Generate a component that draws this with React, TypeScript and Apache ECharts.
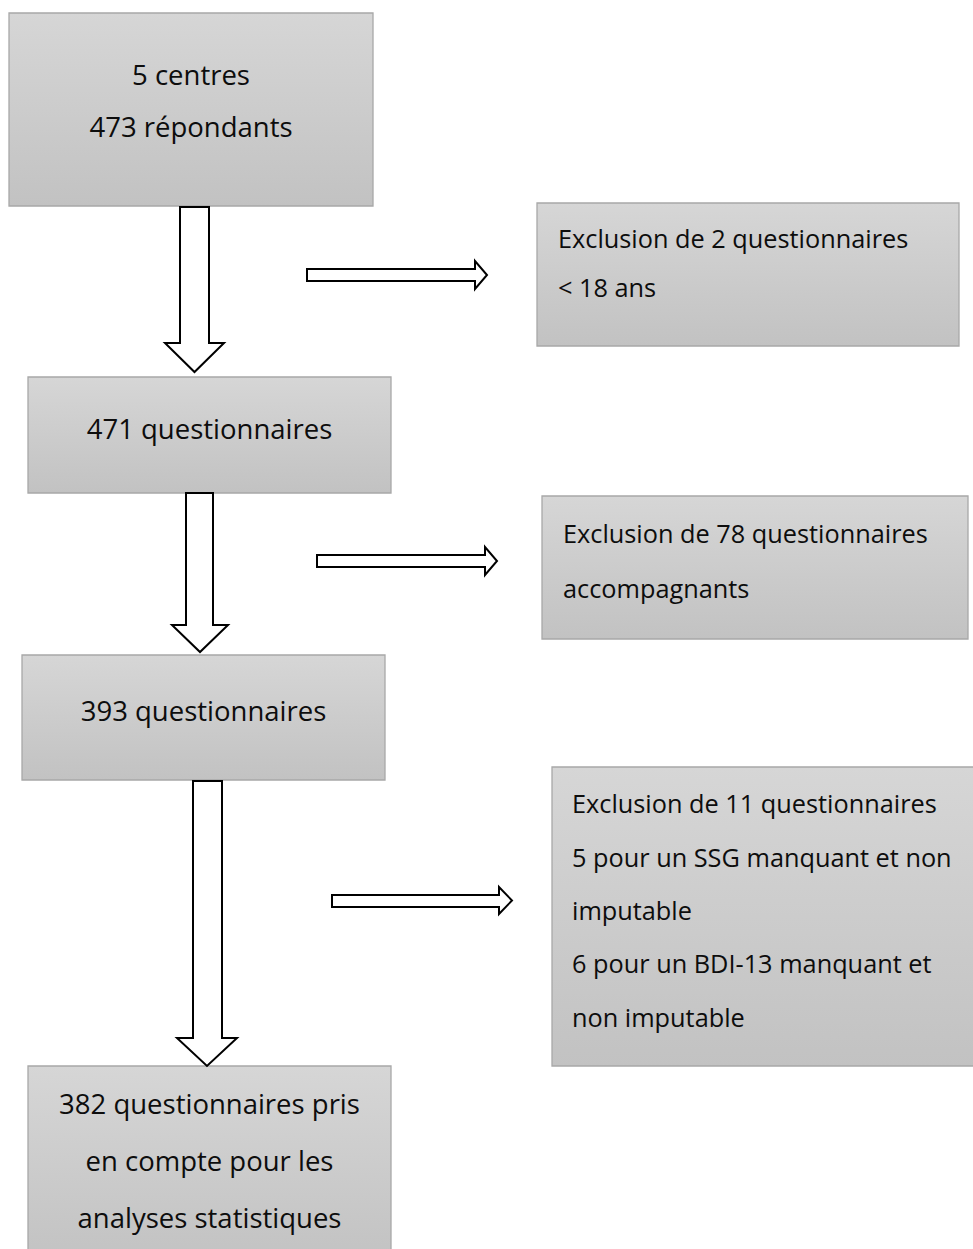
import React, { useEffect, useRef } from "react";
import * as echarts from "echarts";

// ---- Data ----
const mainLabels: string[][] = [
  ["5 centres", "473 répondants"],
  ["471 questionnaires"],
  ["393 questionnaires"],
  ["382 questionnaires pris", "en compte pour les", "analyses statistiques"],
];
const exclusionLabels: string[][] = [
  ["Exclusion de 2 questionnaires", "< 18 ans"],
  ["Exclusion de 78 questionnaires", "accompagnants"],
  [
    "Exclusion de 11 questionnaires",
    "5 pour un SSG manquant et non",
    "imputable",
    "6 pour un BDI-13 manquant et",
    "non imputable",
  ],
];

// ---- Layout (positions / sizes) ----
const mainBoxes = [
  { x: 9, y: 13, w: 364, h: 193, lines: [74, 126] },
  { x: 28, y: 377, w: 363, h: 116, lines: [428] },
  { x: 22, y: 655, w: 363, h: 125, lines: [710] },
  { x: 28, y: 1066, w: 363, h: 200, lines: [1103, 1160, 1217] },
];
const sideBoxes = [
  { x: 537, y: 203, w: 422, h: 143, tx: 558, lines: [238, 287] },
  { x: 542, y: 496, w: 426, h: 143, tx: 563, lines: [533, 588] },
  { x: 552, y: 767, w: 430, h: 299, tx: 572, lines: [803, 857, 910, 963, 1017] },
];
const downArrows = [
  { x0: 180, x1: 209, y0: 207, yh: 343, hx0: 165, hx1: 224, tip: 372 },
  { x0: 186, x1: 213, y0: 493, yh: 625, hx0: 172, hx1: 228, tip: 652 },
  { x0: 193, x1: 222, y0: 781, yh: 1038, hx0: 177, hx1: 237, tip: 1066 },
];
const rightArrows = [
  { x0: 307, xh: 475, y0: 269, y1: 281, hy0: 261, hy1: 289, tip: 487 },
  { x0: 317, xh: 485, y0: 555, y1: 567, hy0: 547, hy1: 575, tip: 497 },
  { x0: 332, xh: 499, y0: 895, y1: 907, hy0: 887, hy1: 914, tip: 512 },
];

const FONT = "'Open Sans', 'Noto Sans', sans-serif";
const FS_MAIN = 27.5;
const FS_SIDE = 25.3;

const boxStyle = () => ({
  fill: new echarts.graphic.LinearGradient(0, 0, 0, 1, [
    { offset: 0, color: "#d6d6d6" },
    { offset: 1, color: "#c2c2c2" },
  ]),
  stroke: "#a8a8a8",
  lineWidth: 1.3,
});

export default function App() {
  const ref = useRef<HTMLDivElement>(null);
  useEffect(() => {
    document.body.style.margin = "0";
    const chart = echarts.init(ref.current!, undefined, { renderer: "svg" });
    const elements: any[] = [];

    mainBoxes.forEach((b, i) => {
      elements.push({
        type: "rect",
        shape: { x: b.x, y: b.y, width: b.w, height: b.h },
        style: boxStyle(),
        z: 1,
      });
      mainLabels[i].forEach((t, j) => {
        elements.push({
          type: "text",
          x: b.x + b.w / 2,
          y: b.lines[j],
          style: {
            text: t,
            font: `${FS_MAIN}px ${FONT}`,
            fill: "#0d0d0d",
            align: "center",
            verticalAlign: "middle",
          },
          z: 3,
        });
      });
    });

    sideBoxes.forEach((b, i) => {
      elements.push({
        type: "rect",
        shape: { x: b.x, y: b.y, width: b.w, height: b.h },
        style: boxStyle(),
        z: 1,
      });
      exclusionLabels[i].forEach((t, j) => {
        elements.push({
          type: "text",
          x: b.tx,
          y: b.lines[j],
          style: {
            text: t,
            font: `${FS_SIDE}px ${FONT}`,
            fill: "#0d0d0d",
            align: "left",
            verticalAlign: "middle",
          },
          z: 3,
        });
      });
    });

    const arrowStyle = { fill: "#ffffff", stroke: "#000000", lineWidth: 2, lineJoin: "miter" };
    downArrows.forEach((a) => {
      const cx = (a.hx0 + a.hx1) / 2;
      elements.push({
        type: "polygon",
        shape: {
          points: [
            [a.x0, a.y0],
            [a.x1, a.y0],
            [a.x1, a.yh],
            [a.hx1, a.yh],
            [cx, a.tip],
            [a.hx0, a.yh],
            [a.x0, a.yh],
          ],
        },
        style: arrowStyle,
        z: 2,
      });
    });
    rightArrows.forEach((a) => {
      const cy = (a.hy0 + a.hy1) / 2;
      elements.push({
        type: "polygon",
        shape: {
          points: [
            [a.x0, a.y0],
            [a.xh, a.y0],
            [a.xh, a.hy0],
            [a.tip, cy],
            [a.xh, a.hy1],
            [a.xh, a.y1],
            [a.x0, a.y1],
          ],
        },
        style: arrowStyle,
        z: 2,
      });
    });

    chart.setOption({
      animation: false,
      backgroundColor: "#ffffff",
      graphic: { elements },
    });
    return () => chart.dispose();
  }, []);
  return <div ref={ref} style={{ width: 973, height: 1249 }} />;
}
